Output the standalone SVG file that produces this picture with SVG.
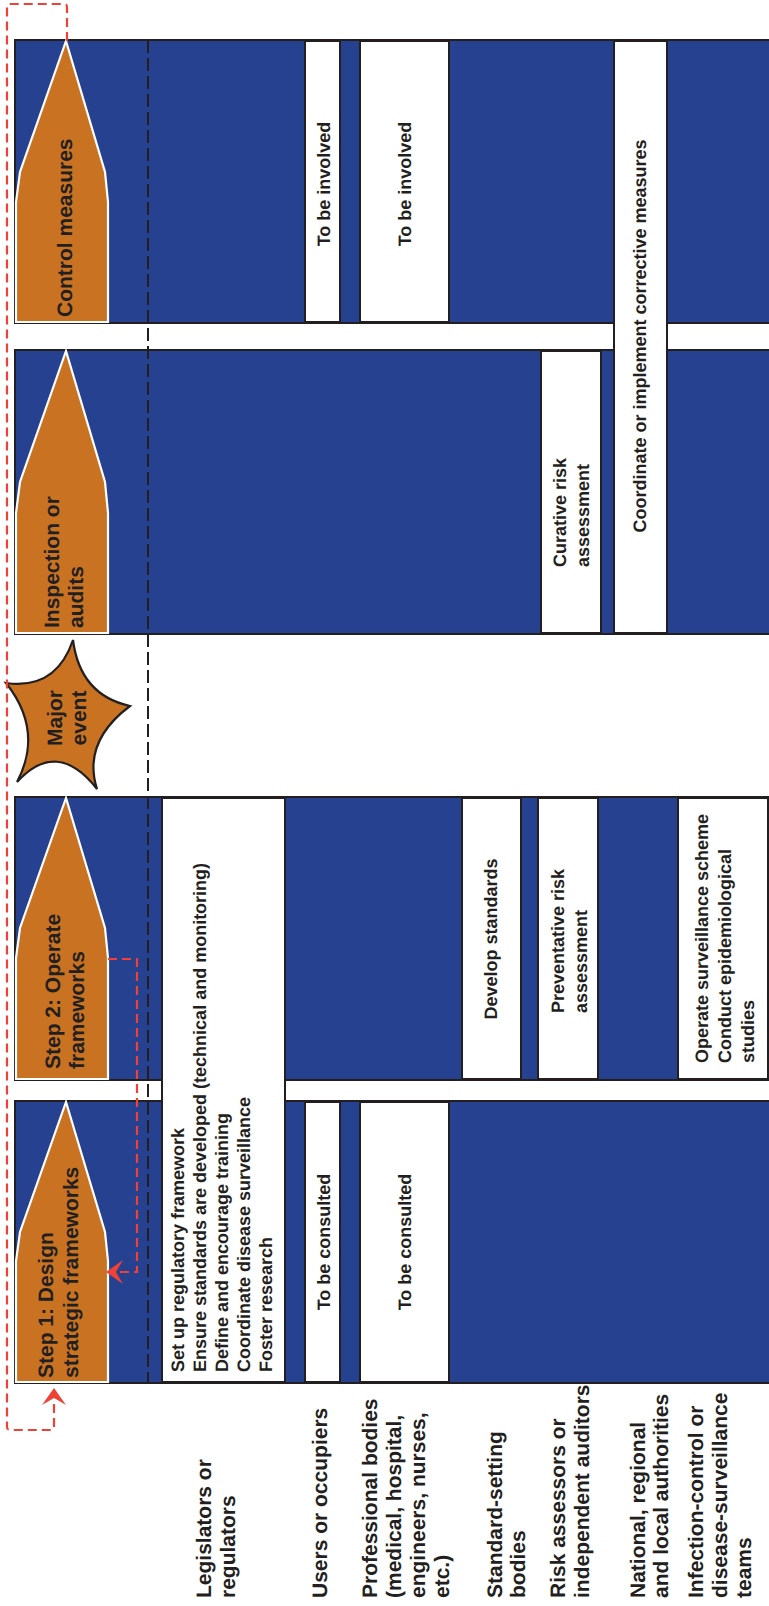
<svg xmlns="http://www.w3.org/2000/svg" width="769" height="1606" viewBox="0 0 769 1606">
  <defs>
    <style>
      .panel { fill: #25418f; stroke: #231f20; stroke-width: 2; }
      .cell { fill: #ffffff; stroke: #231f20; stroke-width: 2; }
      .step { fill: #c97322; stroke: #ffffff; stroke-width: 2.2; stroke-linejoin: miter; }
      .star { fill: #c97322; stroke: #231f20; stroke-width: 2.2; stroke-linejoin: miter; }
      .t { font-family: "Liberation Sans", Arial, Helvetica, sans-serif; font-weight: bold; fill: #231f20; text-rendering: geometricPrecision; }
      .head-text { font-size: 21px; }
      .big { font-size: 21px; }
      .small { font-size: 18px; }
      .mid { text-anchor: middle; }
      .timeline { fill: none; stroke: #231f20; stroke-width: 2; stroke-dasharray: 13 5; }
      .flow { fill: none; stroke: #ef4136; stroke-width: 2.2; stroke-dasharray: 9 5; }
      .head { fill: #ef4136; stroke: none; }
    </style>
  </defs>
  <rect width="769" height="1606" fill="#ffffff"/>

  <!-- stage panels -->
  <g id="panel-control">
    <rect class="panel" x="15" y="40" width="760" height="283"/>
  </g>
  <g id="panel-inspection">
    <rect class="panel" x="15" y="350" width="760" height="284"/>
  </g>
  <g id="panel-step2">
    <rect class="panel" x="15" y="797" width="760" height="283"/>
  </g>
  <g id="panel-step1">
    <rect class="panel" x="15" y="1101" width="760" height="282"/>
  </g>

  <!-- timeline divider -->
  <g id="timeline">
    <line class="timeline" x1="148" y1="40" x2="148" y2="1383"/>
  </g>

  <!-- stage heads -->
  <g id="stage-control">
    <polygon class="step" points="66,41 105,172 108,202 108,322 16,322 16,202 20,172"/>
    <text class="t head-text" transform="translate(72,317) rotate(-90)">Control measures</text>
  </g>
  <g id="stage-inspection">
    <polygon class="step" points="66,351 105,482 108,513 108,633 16,633 16,513 20,482"/>
    <text class="t head-text" transform="translate(59,628) rotate(-90)"><tspan x="0" y="0">Inspection or</tspan><tspan x="0" y="24">audits</tspan></text>
  </g>
  <g id="stage-step2">
    <polygon class="step" points="66,798 105,928 108,958 108,1079 16,1079 16,958 20,928"/>
    <text class="t head-text" transform="translate(60,1069) rotate(-90)"><tspan x="0" y="0">Step 2: Operate</tspan><tspan x="0" y="24">frameworks</tspan></text>
  </g>
  <g id="stage-step1">
    <polygon class="step" points="66,1102 105,1232 108,1261 108,1382 16,1382 16,1261 20,1232"/>
    <text class="t head-text" transform="translate(53,1378) rotate(-90)"><tspan x="0" y="0">Step 1: Design</tspan><tspan x="0" y="25">strategic frameworks</tspan></text>
  </g>

  <!-- major event burst -->
  <g id="major-event">
    <path class="star" d="M73,640 Q80,695 130,706 Q82,742 97,789 Q57,738 17,782 Q44,731 6,683 Q56,690 73,640 Z"/>
    <text class="t head-text mid" transform="translate(62,718) rotate(-90)"><tspan x="0" y="0">Major</tspan><tspan x="0" y="24">event</tspan></text>
  </g>

  <!-- role cells: control measures -->
  <g id="cell-users-involved">
    <rect class="cell" x="305" y="41" width="35" height="281"/>
    <text class="t small mid" transform="translate(330,184) rotate(-90)">To be involved</text>
  </g>
  <g id="cell-professional-involved">
    <rect class="cell" x="360" y="41" width="89" height="281"/>
    <text class="t small mid" transform="translate(411,184) rotate(-90)">To be involved</text>
  </g>
  <g id="cell-authorities-corrective">
    <rect class="cell" x="614" y="41" width="53" height="592"/>
    <text class="t small mid" transform="translate(646,336) rotate(-90)">Coordinate or implement corrective measures</text>
  </g>

  <!-- role cells: inspection -->
  <g id="cell-assessors-curative">
    <rect class="cell" x="541" y="351" width="60" height="282"/>
    <text class="t small" transform="translate(566,567) rotate(-90)"><tspan x="0" y="0">Curative risk</tspan><tspan x="0" y="23">assessment</tspan></text>
  </g>

  <!-- role cells: step 2 -->
  <g id="cell-legislators-tasks">
    <rect class="cell" x="162" y="798" width="123" height="584"/>
    <text class="t small" transform="translate(184,1372) rotate(-90)"><tspan x="0" y="0">Set up regulatory framework</tspan><tspan x="0" y="22">Ensure standards are developed (technical and monitoring)</tspan><tspan x="0" y="44">Define and encourage training</tspan><tspan x="0" y="66">Coordinate disease surveillance</tspan><tspan x="0" y="88">Foster research</tspan></text>
  </g>
  <g id="cell-standards-develop">
    <rect class="cell" x="462" y="798" width="59" height="281"/>
    <text class="t small mid" transform="translate(497,939) rotate(-90)">Develop standards</text>
  </g>
  <g id="cell-assessors-preventative">
    <rect class="cell" x="538" y="798" width="60" height="281"/>
    <text class="t small" transform="translate(564,1013) rotate(-90)"><tspan x="0" y="0">Preventative risk</tspan><tspan x="0" y="23">assessment</tspan></text>
  </g>
  <g id="cell-infection-surveillance">
    <rect class="cell" x="678" y="798" width="90" height="281"/>
    <text class="t small" transform="translate(708,1063) rotate(-90)"><tspan x="0" y="0">Operate surveillance scheme</tspan><tspan x="0" y="23">Conduct epidemiological</tspan><tspan x="0" y="46">studies</tspan></text>
  </g>

  <!-- role cells: step 1 -->
  <g id="cell-users-consulted">
    <rect class="cell" x="305" y="1102" width="35" height="280"/>
    <text class="t small mid" transform="translate(330,1242) rotate(-90)">To be consulted</text>
  </g>
  <g id="cell-professional-consulted">
    <rect class="cell" x="360" y="1102" width="89" height="280"/>
    <text class="t small mid" transform="translate(411,1242) rotate(-90)">To be consulted</text>
  </g>

  <!-- row labels -->
  <g id="label-legislators">
    <text class="t big" transform="translate(211,1598) rotate(-90)"><tspan x="0" y="0">Legislators or</tspan><tspan x="0" y="24">regulators</tspan></text>
  </g>
  <g id="label-users">
    <text class="t big" transform="translate(327,1598) rotate(-90)">Users or occupiers</text>
  </g>
  <g id="label-professional">
    <text class="t big" transform="translate(377,1598) rotate(-90)"><tspan x="0" y="0">Professional bodies</tspan><tspan x="0" y="24">(medical, hospital,</tspan><tspan x="0" y="48">engineers, nurses,</tspan><tspan x="0" y="72">etc.)</tspan></text>
  </g>
  <g id="label-standards">
    <text class="t big" transform="translate(502,1598) rotate(-90)"><tspan x="0" y="0">Standard-setting</tspan><tspan x="0" y="23">bodies</tspan></text>
  </g>
  <g id="label-assessors">
    <text class="t big" transform="translate(565,1598) rotate(-90)"><tspan x="0" y="0">Risk assessors or</tspan><tspan x="0" y="24">independent auditors</tspan></text>
  </g>
  <g id="label-authorities">
    <text class="t big" transform="translate(645,1598) rotate(-90)"><tspan x="0" y="0">National, regional</tspan><tspan x="0" y="23">and local authorities</tspan></text>
  </g>
  <g id="label-infection">
    <text class="t big" transform="translate(703,1598) rotate(-90)"><tspan x="0" y="0">Infection-control or</tspan><tspan x="0" y="24">disease-surveillance</tspan><tspan x="0" y="48">teams</tspan></text>
  </g>

  <!-- feedback loops -->
  <g id="connectors">
    <path class="flow" d="M67,41 V7 Q67,4 64,4 H10 Q7,4 7,7 V1427 Q7,1430 10,1430 H51 Q54,1430 54,1427 V1399"/>
    <path class="head" d="M54,1388 L66,1405 L54,1398 L42,1405 Z"/>
    <path class="flow" d="M108,959 H137 V1272 H117"/>
    <path class="head" d="M106,1272 L123,1260 L116,1272 L123,1284 Z"/>
  </g>
</svg>
